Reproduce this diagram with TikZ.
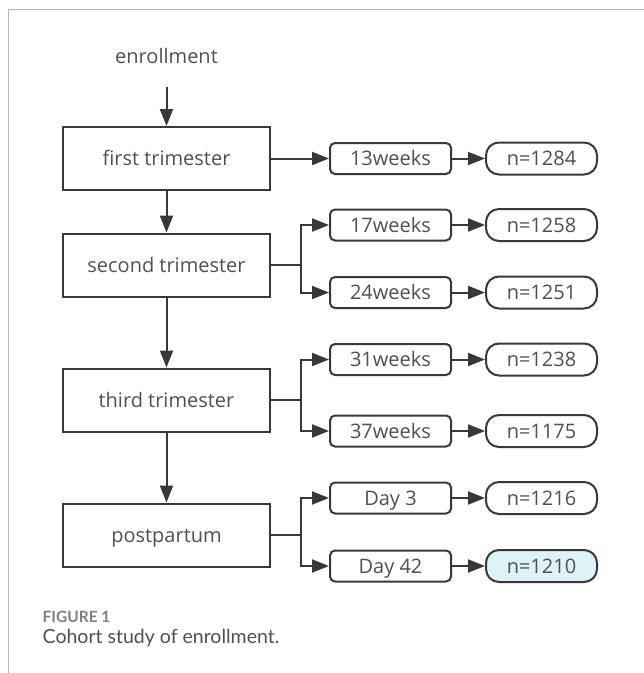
\documentclass[tikz,border=0pt]{standalone}
\usepackage{fontspec}
\setmainfont{Open Sans}
\newfontfamily\capfont{Lato}
\usetikzlibrary{arrows.meta}
\definecolor{inkgray}{HTML}{383838}
\definecolor{textgray}{HTML}{505050}
\definecolor{framegray}{HTML}{B4B4B4}
\definecolor{lastfill}{HTML}{DDF3F5}

\begin{document}
\begin{tikzpicture}[x=1pt, y=-1pt,
        >={Triangle[length=17pt, width=13pt]},
        every node/.style={text=textgray, font=\fontsize{20}{24}\selectfont},
        stage/.style={draw=inkgray, line width=2pt, minimum width=207pt, minimum height=63pt, inner sep=0pt, text height=14.5pt, text depth=0pt},
        when/.style={draw=inkgray, line width=2pt, rounded corners=5pt, minimum width=121pt, minimum height=31pt, inner sep=0pt, text height=14.5pt, text depth=0pt},
        count/.style={draw=inkgray, line width=2pt, rounded corners=13pt, minimum width=111pt, minimum height=32pt, inner sep=0pt, text height=14.5pt, text depth=0pt},
        link/.style={draw=inkgray, line width=2pt, ->}]
        \useasboundingbox (0,0) rectangle (644,673);

        % ===== Frame =====
        \draw[framegray, line width=1.8pt] (644,9.5) -- (8.5,9.5) -- (8.5,673);

        % ===== Left column: stages =====
        \def\xL{166.5}
        \node[anchor=base, inner sep=0pt] (enroll) at (\xL,63) {enrollment};
        \node[stage] (first)  at (\xL,158.5) {first trimester};
        \node[stage] (second) at (\xL,265)   {second trimester};
        \node[stage] (third)  at (\xL,400)   {third trimester};
        \node[stage] (post)   at (\xL,535)   {postpartum};

        \draw[link, shorten <=24pt] (enroll.south) -- (first.north);
        \draw[link] (first) -- (second);
        \draw[link] (second) -- (third);
        \draw[link] (third) -- (post);

        % ===== Middle column: time points =====
        \def\xM{390.5}
        \node[when] (w13) at (\xM,158.5) {13weeks};
        \node[when] (w17) at (\xM,225)   {17weeks};
        \node[when] (w24) at (\xM,292.5) {24weeks};
        \node[when] (w31) at (\xM,359.5) {31weeks};
        \node[when] (w37) at (\xM,431)   {37weeks};
        \node[when] (d3)  at (\xM,498)   {Day 3};
        \node[when] (d42) at (\xM,566)   {Day 42};

        % ===== Right column: sample sizes =====
        \def\xR{541.5}
        \node[count] (n13) at (\xR,158.5) {n=1284};
        \node[count] (n17) at (\xR,225)   {n=1258};
        \node[count] (n24) at (\xR,292.5) {n=1251};
        \node[count] (n31) at (\xR,359.5) {n=1238};
        \node[count] (n37) at (\xR,431)   {n=1175};
        \node[count] (n3)  at (\xR,498)   {n=1216};
        \node[count, fill=lastfill] (n42) at (\xR,566) {n=1210};

        % ===== Branches =====
        \coordinate (j2) at (300.5,265);
        \coordinate (j3) at (300.5,400);
        \coordinate (j4) at (300.5,535);

        \draw[link] (first) -- (w13);
        \draw[draw=inkgray, line width=2pt] (second) -- (j2);
        \draw[link] (j2) |- (w17);
        \draw[link] (j2) |- (w24);
        \draw[draw=inkgray, line width=2pt] (third) -- (j3);
        \draw[link] (j3) |- (w31);
        \draw[link] (j3) |- (w37);
        \draw[draw=inkgray, line width=2pt] (post) -- (j4);
        \draw[link] (j4) |- (d3);
        \draw[link] (j4) |- (d42);

        \foreach \a/\b in {w13/n13, w17/n17, w24/n24, w31/n31, w37/n37, d3/n3, d42/n42}
            \draw[link] (\a) -- (\b);

        % ===== Caption =====
        \node[anchor=base west, inner sep=0pt, text=gray, font=\capfont\bfseries\fontsize{15.5}{18}\selectfont] (fig) at (42.5,622) {FIGURE 1};
        \node[anchor=base west, inner sep=0pt, text=textgray, font=\capfont\fontsize{19.5}{23}\selectfont] (cap) at (42.5,643) {Cohort study of enrollment.};
    \end{tikzpicture}
\end{document}
